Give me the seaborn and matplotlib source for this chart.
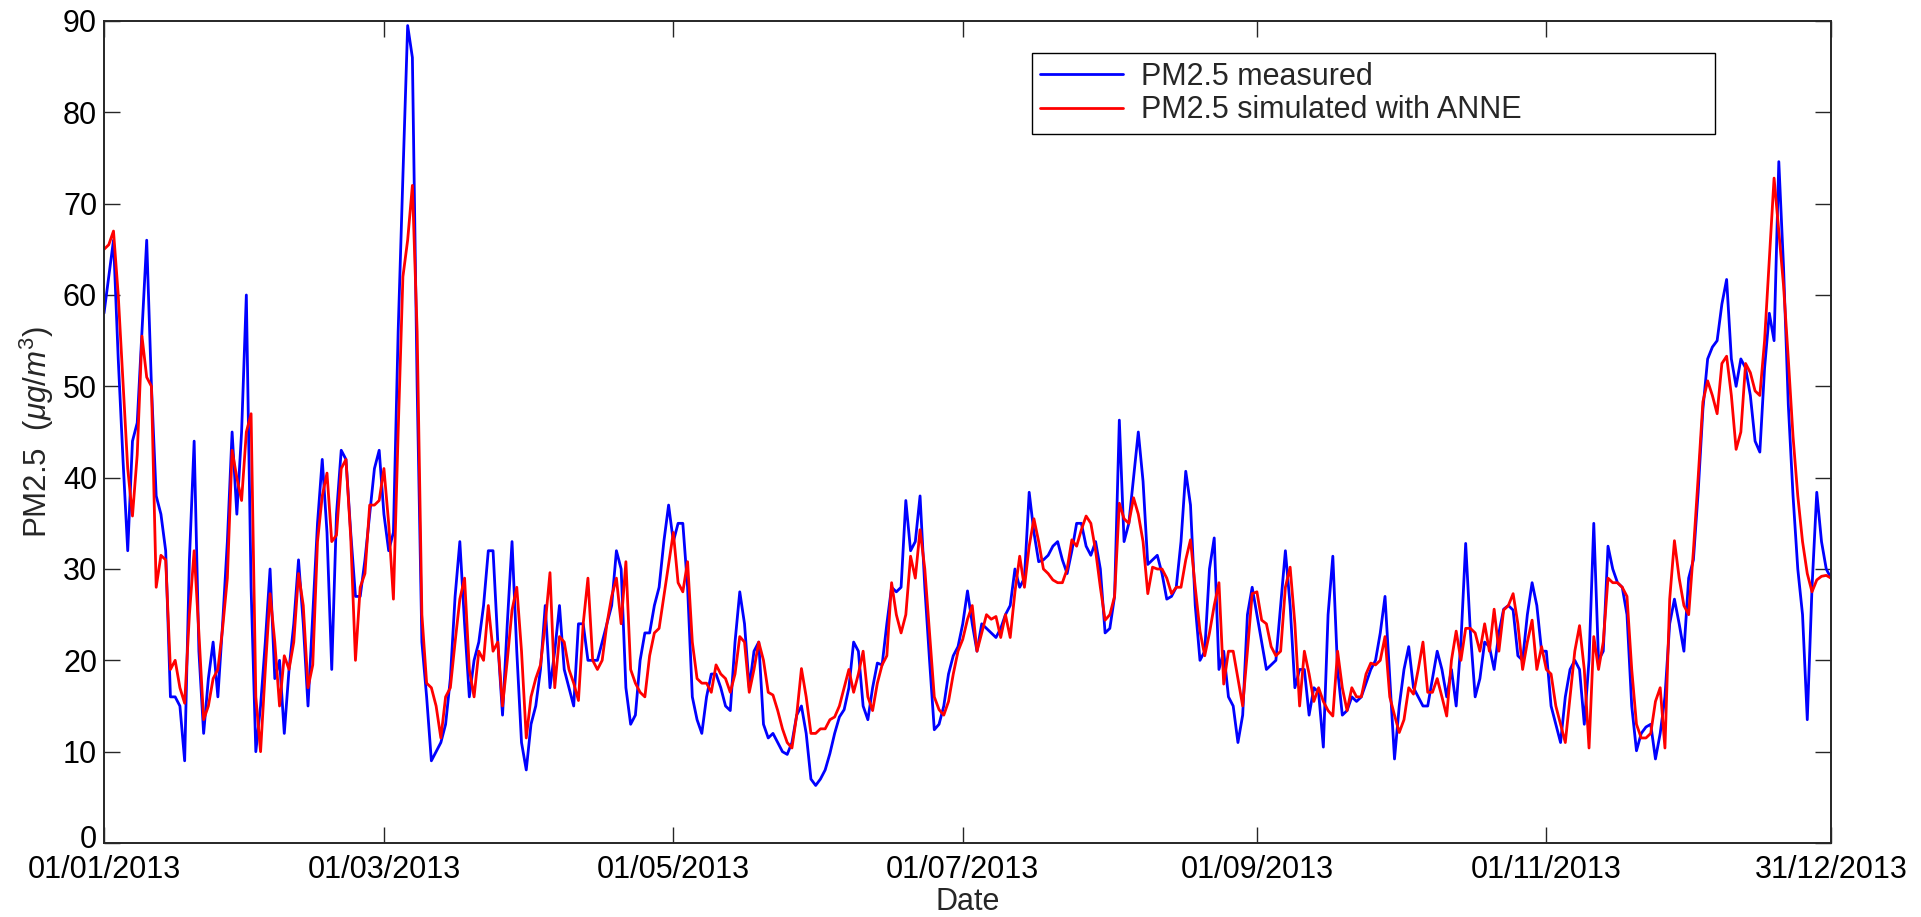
import numpy as np
import pandas as pd
import matplotlib
matplotlib.use("Agg")
import matplotlib.pyplot as plt
import matplotlib.dates as mdates
import matplotlib.transforms as mtransforms
import seaborn as sns

# Daily PM2.5 concentrations for 2013 (ug/m3)
measured = [
    58, 62, 66, 53, 42, 32, 44, 46, 56, 66,
    50, 38, 36, 32, 16, 16, 15, 9, 31, 44,
    21, 12, 18, 22, 16, 24, 33, 45, 36, 45,
    60, 28, 10, 15, 22, 30, 18, 20, 12, 19,
    24, 31, 24, 15, 25, 35, 42, 34, 19, 36,
    43, 42, 34, 27, 27, 31, 36, 41, 43, 36,
    32, 34, 56, 73, 89.5, 86, 50, 22, 16, 9,
    10, 11, 13, 18, 27, 33, 24, 16, 20, 22,
    26, 32, 32, 22, 14, 24, 33, 21, 11, 8,
    13, 15, 19, 26, 17, 21, 26, 19, 17, 15,
    24, 24, 20, 20, 20, 22, 24, 26, 32, 30,
    17, 13, 14, 20, 23, 23, 26, 28, 33, 37,
    33, 35, 35, 28, 16, 13.5, 12, 16, 18.5, 18.5,
    17, 15, 14.5, 22, 27.5, 24, 17, 21, 22, 13,
    11.5, 12, 11, 10, 9.7, 11, 14, 15, 12, 7,
    6.3, 7, 8, 9.8, 12, 13.8, 14.6, 17, 22, 21,
    15, 13.5, 17, 19.7, 19.5, 24, 28, 27.5, 28, 37.5,
    32, 33, 38, 28, 20, 12.4, 13, 15, 18.5, 20.5,
    21.5, 24, 27.6, 24, 21, 24, 23.5, 23, 22.5, 23.5,
    25, 26, 30, 28, 29, 38.4, 34, 30.8, 31, 31.5,
    32.5, 33, 31, 29.5, 32, 35, 35, 32.5, 31.5, 33,
    30, 23, 23.5, 27, 46.3, 33, 35, 40, 45, 39.6,
    30.5, 31, 31.5, 29.5, 26.7, 27, 28, 33, 40.7, 37,
    26, 20, 21, 30, 33.4, 19, 21, 16, 15, 11,
    14, 25, 28, 25, 22, 19, 19.5, 20, 26, 32,
    26, 17, 19, 19, 14, 17, 16.5, 10.5, 25, 31.4,
    19, 14, 14.5, 16, 15.5, 16, 17.5, 19, 20, 23,
    27, 18, 9.2, 15, 19, 21.5, 17, 16, 15, 15,
    18, 21, 19, 16, 19, 15, 22, 32.8, 23, 16,
    18, 22, 21.5, 19, 23, 25.6, 26, 25.5, 20.5, 20,
    25, 28.5, 26, 21, 21, 15, 13, 11, 16, 19,
    20, 19, 13, 20, 35, 20, 21, 32.5, 30, 28.5,
    28, 25, 15, 10.1, 12, 12.7, 13, 9.2, 12, 16,
    24, 26.7, 24, 21, 29, 31, 38.4, 47.5, 53, 54.3,
    55, 59, 61.7, 53, 50, 53, 52, 49, 44, 42.8,
    52, 58, 55, 74.6, 63, 48, 38, 30, 25, 13.5,
    28, 38.4, 33, 30, 29,
]

simulated = [
    65, 65.5, 67, 60, 50.5, 41, 35.8, 42.5, 55.5, 51,
    50, 28, 31.5, 31, 19, 20, 17, 15.3, 25, 32,
    23, 13.5, 15, 18, 19, 23.5, 29, 43, 40, 37.5,
    45, 47, 16, 10, 19, 27.3, 22, 15, 20.5, 19,
    22, 29.5, 26, 17, 19.5, 33, 38, 40.5, 33, 33.7,
    41, 42, 33.5, 20, 28, 29.5, 37, 37, 37.5, 41,
    35, 26.7, 45, 62, 66, 72, 56, 25, 17.5, 17,
    15, 11.5, 16, 17, 22, 26.7, 29, 19, 16, 21,
    20, 26, 21, 22, 15, 20, 25.5, 28, 21, 11.5,
    16, 18, 19.5, 24, 29.6, 17, 22.6, 22, 19, 17.5,
    15.6, 24, 29, 20, 19, 20, 24, 27, 29, 24,
    30.8, 19, 17.5, 16.5, 16, 20.5, 23, 23.5, 27, 30.5,
    34, 28.5, 27.5, 30.8, 22, 18, 17.5, 17.5, 16.5, 19.5,
    18.5, 18, 16.5, 18.5, 22.6, 22, 16.5, 19, 22, 20,
    16.5, 16.2, 14.5, 12.5, 11, 10.4, 14, 19.1, 16, 12,
    12, 12.5, 12.5, 13.5, 13.8, 15, 17, 19, 16.5, 18.5,
    21, 16, 14.5, 17.5, 19.5, 20.5, 28.5, 25, 23, 25,
    31.4, 29, 34.3, 30, 23, 16, 14.6, 14, 15.5, 18.5,
    21, 22.3, 24.5, 26, 21, 23, 25, 24.5, 24.8, 22.5,
    25, 22.5, 27.5, 31.4, 28, 32.5, 35.5, 33, 30, 29.5,
    28.8, 28.5, 28.5, 30, 33.2, 32.5, 34.3, 35.8, 35, 32,
    28, 24.4, 25, 27, 37.2, 35.5, 35, 37.8, 36, 33,
    27.3, 30.2, 30, 30, 29, 27.3, 28, 28, 31, 33.2,
    28, 23.2, 20.5, 23, 26, 28.5, 17.4, 21, 21, 18,
    15, 21, 27.3, 27.5, 24.4, 24, 21.5, 20.5, 21, 28,
    30.2, 24, 15, 21, 18.5, 15.5, 17, 15.5, 14.5, 13.9,
    21, 17, 14.5, 17, 16, 16, 18.5, 19.7, 19.5, 20,
    22.6, 16, 14, 12.1, 13.5, 17, 16.3, 19, 22, 16.5,
    16.5, 18, 16, 13.9, 20, 23.2, 20, 23.5, 23.5, 23,
    21, 24, 21, 25.6, 21, 25.5, 26, 27.3, 24, 19,
    22, 24.4, 19, 21.5, 19, 18.5, 15, 13, 11, 16,
    21, 23.8, 19, 10.4, 22.6, 19, 22, 29, 28.5, 28.5,
    28, 27, 19, 13, 11.5, 11.5, 12, 15.5, 17, 10.4,
    26.7, 33.1, 29, 26, 25, 32, 40, 48.3, 50.6, 49,
    47, 52.5, 53.3, 49, 43.1, 45, 52.5, 51.5, 49.5, 49,
    55, 64, 72.8, 67, 61, 53, 44.5, 38, 33, 29.5,
    27.5, 28.8, 29.2, 29.3, 29,
]

series_names = ["PM2.5 measured", "PM2.5 simulated with ANNE"]
series_colors = ["#0000ff", "#ff0000"]
tick_dates = ["2013-01-01", "2013-03-01", "2013-05-01", "2013-07-01",
              "2013-09-01", "2013-11-01", "2013-12-31"]
y_ticks = [0, 10, 20, 30, 40, 50, 60, 70, 80, 90]

assert len(measured) == 365 and len(simulated) == 365
dates = pd.date_range("2013-01-01", periods=365, freq="D")

df = pd.DataFrame({
    "Date": np.concatenate([dates, dates]),
    "PM2.5": measured + simulated,
    "Series": [series_names[0]] * 365 + [series_names[1]] * 365,
})

sns.set_style("ticks")
plt.rcParams["font.family"] = ["Liberation Sans", "DejaVu Sans"]
plt.rcParams["mathtext.fontset"] = "custom"
plt.rcParams["mathtext.rm"] = "Liberation Sans"
plt.rcParams["mathtext.it"] = "Liberation Sans:italic"

W, H = 1921, 917
fig = plt.figure(figsize=(W / 100, H / 100), dpi=100)
fig.patch.set_facecolor("white")
ax = fig.add_axes([104 / W, 1 - 843 / H, 1727 / W, 822 / H])

sns.lineplot(data=df, x="Date", y="PM2.5", hue="Series",
             hue_order=series_names,
             palette=dict(zip(series_names, series_colors)),
             estimator=None, linewidth=2.0, ax=ax)

ax.set_xlim(dates[0], dates[-1])
ax.set_ylim(0, 90)
ax.set_xticks(pd.to_datetime(tick_dates))
ax.xaxis.set_major_formatter(mdates.DateFormatter("%d/%m/%Y"))
ax.set_yticks(y_ticks)

frame_color = "#262626"
for side in ["left", "right", "top", "bottom"]:
    ax.spines[side].set_visible(True)
    ax.spines[side].set_color(frame_color)
    ax.spines[side].set_linewidth(1.4)

ax.tick_params(axis="both", which="major", direction="in", length=11.5,
               width=1.0, color=frame_color, labelsize=22,
               labelcolor="black", top=True, right=True)
ax.tick_params(axis="x", pad=9)
ax.tick_params(axis="y", pad=5)

# lift the "0" label a little so it clears the first date label
zero_label = ax.yaxis.get_major_ticks()[0].label1
zero_label.set_transform(zero_label.get_transform() +
                         mtransforms.ScaledTranslation(0, 5 / 72, fig.dpi_scale_trans))

ax.set_xlabel("Date", fontsize=22, labelpad=1)
ax.set_ylabel(r"PM2.5  ($\mu g/m^3$)", fontsize=22.5, labelpad=5)

handles, labels = ax.get_legend_handles_labels()
leg = ax.legend(handles, labels, loc="upper left",
                bbox_to_anchor=(0.5373, 0.8552, 0.3955, 0.1058),
                mode="expand", borderaxespad=0, fontsize=22,
                frameon=True, fancybox=False, framealpha=1,
                edgecolor="black", handlelength=2.7, handletextpad=0.6,
                borderpad=0.28, labelspacing=0.12)
leg.get_frame().set_linewidth(1.0)
for line in leg.get_lines():
    line.set_linewidth(2.0)

fig.savefig("out.png", dpi=100, facecolor="white")
